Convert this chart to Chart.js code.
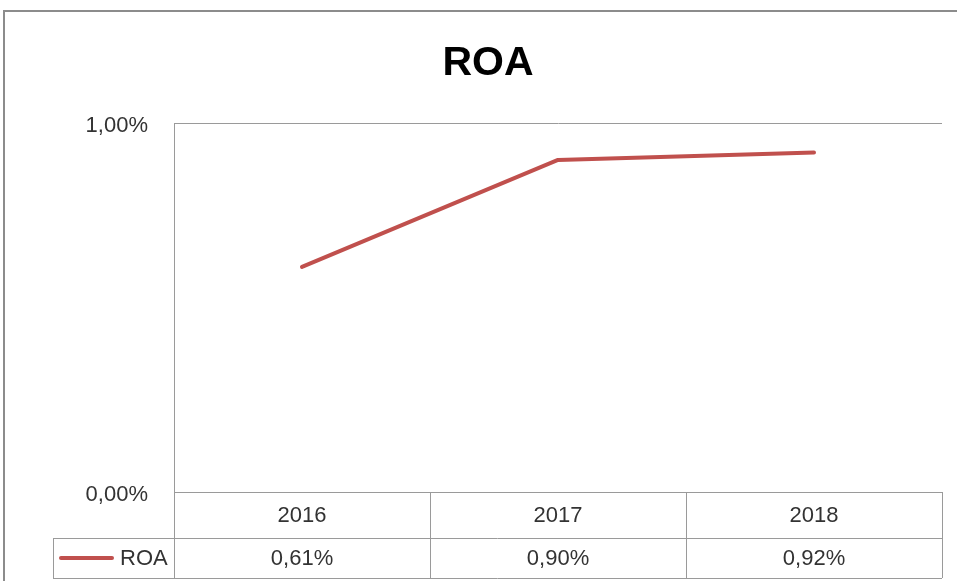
<!DOCTYPE html>
<html>
<head>
<meta charset="utf-8">
<script src="https://cdn.jsdelivr.net/npm/chart.js@4"></script>
<style>
  html, body { margin: 0; padding: 0; background: #fff; }
  canvas { display: block; }
</style>
</head>
<body>
<canvas id="roa" width="957" height="581"></canvas>
<script>
const years = ['2016', '2017', '2018'];
const roaValues = [0.61, 0.90, 0.92];
const yTicks = [0, 1];

const GRAY = '#9a9a9a';
const RED = '#c0504d';
const TEXT = '#333333';
const FONT = "'Liberation Sans', Arial, sans-serif";

const fmt = v => v.toFixed(2).replace('.', ',') + '%';

// frame, title and the data table under the plot
const tablePlugin = {
  id: 'tablePlugin',
  afterDraw(chart) {
    const { ctx, chartArea, scales: { x } } = chart;
    const left = chartArea.left, right = chartArea.right, top = chartArea.bottom;
    const row1 = top + 46, row2 = row1 + 40;
    const legendLeft = 53;
    ctx.save();
    // outer chart border
    ctx.strokeStyle = '#8c8c8c';
    ctx.lineWidth = 2;
    ctx.beginPath();
    ctx.moveTo(4, 581); ctx.lineTo(4, 11); ctx.lineTo(957, 11);
    ctx.stroke();

    // title
    ctx.fillStyle = '#000';
    ctx.font = "bold 41px " + FONT;
    ctx.textAlign = 'center';
    ctx.textBaseline = 'middle';
    ctx.fillText('ROA', 488, 64);

    // table grid
    ctx.strokeStyle = GRAY;
    ctx.lineWidth = 1;
    ctx.beginPath();
    ctx.moveTo(left + 0.5, top); ctx.lineTo(left + 0.5, row2);
    ctx.moveTo(left, top + 0.5); ctx.lineTo(right, top + 0.5);
    ctx.moveTo(legendLeft, row1 + 0.5); ctx.lineTo(right, row1 + 0.5);
    ctx.moveTo(legendLeft, row2 + 0.5); ctx.lineTo(right, row2 + 0.5);
    ctx.moveTo(legendLeft + 0.5, row1); ctx.lineTo(legendLeft + 0.5, row2);
    const colW = (right - left) / years.length;
    for (let i = 1; i <= years.length; i++) {
      const cx = Math.round(left + colW * i) + 0.5;
      ctx.moveTo(cx, top); ctx.lineTo(cx, row2);
    }
    ctx.stroke();

    // legend key
    ctx.strokeStyle = RED;
    ctx.lineWidth = 4;
    ctx.lineCap = 'round';
    ctx.beginPath();
    ctx.moveTo(61, (row1 + row2) / 2); ctx.lineTo(112, (row1 + row2) / 2);
    ctx.stroke();

    ctx.fillStyle = TEXT;
    ctx.font = "22px " + FONT;
    ctx.textAlign = 'left';
    ctx.fillText('ROA', 120, (row1 + row2) / 2 + 1);

    ctx.textAlign = 'center';
    years.forEach((yr, i) => {
      const px = x.getPixelForValue(i);
      ctx.fillText(yr, px, (top + row1) / 2 + 1);
      ctx.fillText(fmt(roaValues[i]), px, (row1 + row2) / 2 + 1);
    });
    ctx.restore();
  }
};

new Chart(document.getElementById('roa'), {
  type: 'line',
  data: {
    labels: years,
    datasets: [{
      label: 'ROA',
      data: roaValues,
      borderColor: RED,
      backgroundColor: RED,
      borderWidth: 4,
      pointRadius: 0,
      tension: 0,
      borderCapStyle: 'round',
      borderJoinStyle: 'round'
    }]
  },
  options: {
    responsive: false,
    animation: false,
    layout: { padding: { left: 0, top: 123, right: 15, bottom: 89 } },
    plugins: { legend: { display: false }, title: { display: false }, tooltip: { enabled: false } },
    scales: {
      x: { display: false, offset: true },
      y: {
        min: 0, max: 1,
        afterFit: s => { s.width = 174; },
        afterBuildTicks: s => { s.ticks = yTicks.map(v => ({ value: v })); },
        ticks: {
          color: TEXT,
          padding: 26,
          labelOffset: 3,
          font: { size: 22, family: FONT },
          callback: v => fmt(v)
        },
        grid: { color: GRAY, drawTicks: false, lineWidth: 1 },
        border: { color: GRAY, width: 1 }
      }
    }
  },
  plugins: [tablePlugin]
});
</script>
</body>
</html>
